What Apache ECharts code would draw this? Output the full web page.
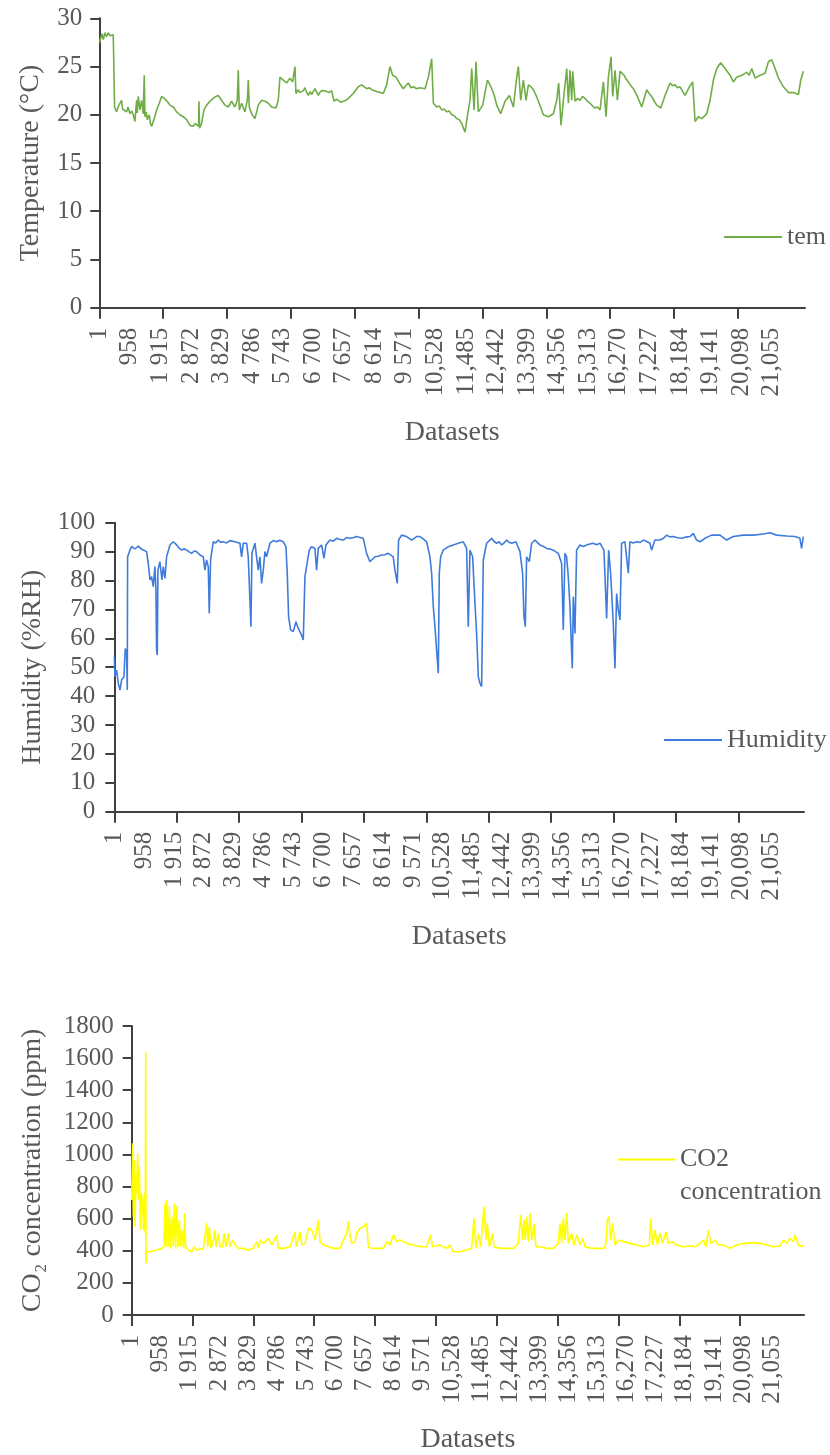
<!DOCTYPE html>
<html><head><meta charset="utf-8">
<script src="https://cdn.jsdelivr.net/npm/echarts@6/dist/echarts.min.js"></script>
<style>html,body{margin:0;padding:0;background:#fff}#c{width:830px;height:1455px}</style>
</head><body><div id="c"></div>
<script>
// ---- tick labels ----
const xLabelValues = [1,958,1915,2872,3829,4786,5743,6700,7657,8614,9571,10528,11485,12442,13399,14356,15313,16270,17227,18184,19141,20098,21055];
const xLabelTexts = ['1','958','1 915','2 872','3 829','4 786','5 743','6 700','7 657','8 614','9 571','10,528','11,485','12,442','13,399','14,356','15,313','16,270','17,227','18,184','19,141','20,098','21,055'];
const xTickValues = [1,2001,4001,6001,8001,10001,12001,14001,16001,18001,20001];

// ---- series values: [dataset index, value] ----
const tempData = [[1,27.4],[42,27.9],[84,28.4],[125,27.8],[177,28.5],[230,28.1],[282,28.5],[334,28.2],[386,28.4],[438,28.3],[470,28.4],[480,20.8],[543,20.3],[600,20.9],[626,20.7],[700,21.5],[730,20.6],[773,20.5],[856,20.3],[900,20.8],[960,20.1],[1020,20.4],[1065,20.0],[1117,19.3],[1169,21.5],[1190,20.2],[1221,21.9],[1274,20.5],[1326,21.5],[1378,20.1],[1409,24.1],[1430,19.8],[1470,20.3],[1503,19.5],[1566,20.0],[1600,19.1],[1639,18.8],[1712,19.5],[1796,20.5],[1879,21.2],[1952,21.9],[2004,22.0],[2040,21.7],[2088,21.5],[2150,21.3],[2213,21.0],[2318,20.8],[2422,20.3],[2470,20.5],[2526,20.0],[2631,19.8],[2735,19.5],[2790,19.7],[2840,18.9],[2944,18.8],[3000,19.1],[3048,18.9],[3110,18.8],[3122,21.4],[3143,18.6],[3205,19.1],[3278,20.5],[3362,21.0],[3466,21.4],[3570,21.7],[3650,21.9],[3727,22.0],[3831,21.5],[3936,21.0],[4040,20.8],[4145,21.4],[4249,20.8],[4322,21.5],[4353,24.6],[4384,20.5],[4458,21.2],[4562,20.3],[4640,21.6],[4667,23.6],[4698,20.8],[4771,20.1],[4875,19.6],[4980,21.0],[5084,21.5],[5188,21.4],[5293,21.2],[5397,20.8],[5533,20.7],[5606,21.5],[5658,23.9],[5763,23.6],[5867,23.3],[5972,23.8],[6055,23.4],[6128,25.0],[6159,22.2],[6190,22.4],[6232,22.6],[6280,22.3],[6337,22.2],[6390,22.5],[6441,22.8],[6500,22.3],[6546,22.0],[6600,22.4],[6650,22.1],[6700,22.2],[6754,22.7],[6800,22.5],[6859,22.0],[6900,22.3],[6963,22.5],[7040,22.5],[7120,22.4],[7200,22.3],[7276,22.5],[7350,21.4],[7420,21.6],[7485,21.5],[7560,21.3],[7642,21.4],[7720,21.5],[7799,21.7],[7955,22.2],[8112,22.9],[8216,23.1],[8300,22.9],[8373,22.7],[8450,22.8],[8529,22.6],[8686,22.4],[8800,22.3],[8895,22.2],[8999,23.1],[9103,25.0],[9187,24.1],[9291,23.9],[9396,23.3],[9521,22.7],[9600,23.0],[9678,23.3],[9760,22.8],[9834,22.9],[9940,22.7],[10044,22.8],[10201,22.7],[10305,23.9],[10410,25.8],[10462,21.2],[10566,20.8],[10650,20.9],[10723,20.5],[10800,20.6],[10880,20.3],[10960,20.4],[11036,20.0],[11120,19.9],[11193,19.6],[11270,19.5],[11349,19.1],[11454,18.2],[11537,20.1],[11610,21.5],[11663,24.8],[11736,20.5],[11798,25.5],[11871,20.3],[12007,21.0],[12153,23.6],[12220,23.2],[12289,22.7],[12370,22.0],[12446,21.0],[12571,20.1],[12707,21.4],[12842,22.0],[12968,20.8],[13072,23.9],[13124,25.0],[13197,21.5],[13281,23.6],[13364,21.5],[13437,23.1],[13520,22.9],[13594,22.6],[13680,22.0],[13750,21.4],[13830,20.7],[13907,20.0],[14064,19.8],[14220,20.1],[14325,21.5],[14387,23.3],[14460,18.9],[14534,21.5],[14638,24.8],[14690,21.2],[14742,24.6],[14795,21.5],[14826,24.5],[14899,21.4],[14980,21.7],[15056,21.5],[15130,21.9],[15212,21.7],[15290,21.4],[15369,21.2],[15450,20.9],[15525,20.7],[15600,20.8],[15682,20.5],[15786,23.4],[15870,19.8],[15943,23.9],[16026,26.0],[16078,21.9],[16152,24.6],[16225,21.5],[16308,24.5],[16434,24.1],[16500,23.7],[16569,23.4],[16650,23.0],[16726,22.7],[16851,21.9],[16987,20.8],[17144,22.6],[17220,22.2],[17300,21.9],[17380,21.4],[17457,21.0],[17582,20.7],[17718,22.0],[17874,23.3],[17950,23.0],[18031,23.1],[18110,22.8],[18188,22.9],[18344,22.0],[18480,22.9],[18584,23.4],[18657,19.3],[18762,19.8],[18866,19.6],[19023,20.1],[19127,21.5],[19232,23.6],[19336,24.8],[19461,25.4],[19597,24.8],[19754,24.1],[19858,23.4],[19962,23.9],[20119,24.1],[20276,24.4],[20350,24.1],[20432,24.8],[20537,23.8],[20693,24.1],[20850,24.3],[20954,25.5],[21059,25.7],[21163,24.8],[21268,23.8],[21424,22.9],[21581,22.3],[21738,22.3],[21894,22.1],[21967,23.6],[22050,24.5]];

const humData = [[1,53.6],[21,46.7],[75,49.0],[128,44.4],[182,42.1],[235,45.6],[310,46.7],[352,56.5],[395,54.8],[417,42.1],[427,88.2],[502,90.5],[560,91.8],[609,91.7],[660,90.9],[716,90.5],[770,91.9],[822,91.5],[880,90.8],[929,91.1],[1036,90.0],[1089,85.9],[1143,80.2],[1196,81.3],[1250,77.9],[1303,84.8],[1335,76.7],[1356,55.9],[1378,54.2],[1399,83.6],[1463,86.5],[1527,80.2],[1570,84.8],[1623,80.7],[1677,88.2],[1784,92.3],[1890,93.4],[1997,92.3],[2080,91.2],[2157,90.5],[2240,91.0],[2318,90.5],[2400,89.9],[2478,89.4],[2560,90.2],[2638,90.0],[2745,88.8],[2852,88.2],[2905,83.6],[2958,87.1],[3012,84.8],[3044,68.6],[3087,87.1],[3172,93.4],[3250,93.0],[3332,94.0],[3410,93.2],[3492,93.4],[3600,93.0],[3706,93.8],[3866,93.4],[4026,92.9],[4080,88.2],[4133,92.9],[4240,92.9],[4293,88.2],[4347,73.2],[4379,64.0],[4411,89.4],[4507,92.9],[4560,88.2],[4614,83.6],[4667,88.2],[4721,79.0],[4774,83.6],[4827,90.0],[4881,88.2],[4988,92.9],[5100,93.8],[5201,93.4],[5300,93.9],[5415,93.4],[5500,91.7],[5543,82.5],[5586,67.5],[5650,62.9],[5735,62.3],[5821,65.7],[5895,63.4],[6002,61.1],[6056,59.4],[6109,81.3],[6162,80.7],[6248,90.5],[6323,91.7],[6429,91.1],[6483,83.6],[6536,91.1],[6643,92.3],[6718,87.7],[6782,92.3],[6910,94.0],[7020,93.6],[7124,94.6],[7230,94.2],[7337,94.0],[7450,94.9],[7551,94.6],[7660,94.8],[7764,95.2],[7878,94.9],[7978,94.6],[8085,89.4],[8192,86.5],[8352,88.2],[8460,88.4],[8565,88.8],[8670,88.9],[8779,89.4],[8939,88.2],[8993,83.6],[9067,79.0],[9110,94.0],[9206,95.7],[9366,95.2],[9527,94.0],[9687,95.2],[9795,95.2],[9900,94.4],[10008,93.4],[10115,88.2],[10169,82.5],[10222,71.0],[10275,64.0],[10329,55.9],[10382,47.9],[10414,82.5],[10457,88.2],[10542,90.5],[10703,91.7],[10863,92.3],[11023,92.9],[11183,93.4],[11290,91.1],[11343,64.0],[11397,90.5],[11482,88.2],[11557,72.1],[11610,61.7],[11664,46.7],[11717,44.4],[11771,43.3],[11824,87.1],[11931,92.9],[12091,94.6],[12170,93.5],[12251,92.9],[12330,93.4],[12411,92.3],[12490,93.0],[12572,94.0],[12650,93.2],[12732,92.9],[12871,93.4],[12999,90.0],[13084,82.5],[13127,67.5],[13170,64.0],[13212,88.2],[13298,86.5],[13373,92.9],[13479,94.0],[13560,93.1],[13640,92.3],[13750,91.8],[13853,91.1],[13960,90.9],[14067,90.5],[14227,89.4],[14334,85.9],[14387,62.9],[14441,89.4],[14494,88.2],[14547,81.3],[14601,71.0],[14644,58.2],[14676,49.6],[14708,74.4],[14761,61.7],[14814,90.5],[14921,92.3],[15030,91.8],[15135,92.3],[15240,92.6],[15348,92.9],[15450,92.4],[15562,92.9],[15690,90.5],[15776,66.9],[15840,90.5],[15904,82.5],[15989,65.2],[16043,49.6],[16096,75.5],[16149,69.8],[16203,66.3],[16256,92.9],[16363,93.4],[16470,82.5],[16523,93.4],[16630,93.0],[16737,93.4],[16850,93.2],[16950,94.0],[17060,93.5],[17164,92.9],[17217,90.5],[17324,94.0],[17484,94.0],[17600,94.6],[17698,95.7],[17800,95.1],[17912,95.2],[18050,94.8],[18179,94.6],[18300,95.0],[18446,95.2],[18552,96.3],[18659,94.0],[18766,93.4],[18926,94.6],[19140,95.7],[19407,95.7],[19620,94.0],[19834,95.2],[20154,95.7],[20474,95.7],[20795,96.1],[21009,96.5],[21222,95.7],[21543,95.4],[21810,95.2],[21970,94.6],[22023,91.1],[22077,95.2]];

const co2Data = [[1,716],[33,1069],[55,612],[88,965],[110,550],[142,882],[164,758],[197,1007],[230,716],[252,924],[285,529],[318,758],[362,675],[395,529],[416,758],[449,509],[460,1640],[471,322],[493,394],[603,394],[822,405],[986,415],[1063,425],[1096,695],[1129,425],[1151,716],[1206,425],[1238,675],[1282,415],[1326,612],[1370,425],[1403,695],[1447,415],[1480,675],[1534,425],[1567,592],[1611,425],[1655,529],[1710,415],[1743,633],[1776,425],[1863,405],[1973,394],[2050,425],[2137,405],[2356,415],[2466,571],[2499,425],[2554,550],[2608,415],[2685,467],[2740,529],[2773,425],[2850,509],[2904,425],[2992,425],[3036,509],[3102,425],[3178,509],[3233,425],[3321,467],[3398,436],[3508,415],[3672,415],[3836,405],[4001,415],[4111,457],[4165,415],[4220,467],[4330,446],[4494,477],[4604,436],[4768,498],[4823,415],[4987,415],[5207,425],[5371,519],[5404,425],[5535,519],[5590,436],[5700,446],[5810,540],[5919,529],[6029,467],[6138,592],[6193,457],[6302,436],[6466,425],[6631,415],[6850,415],[6960,467],[7069,509],[7124,581],[7179,488],[7234,446],[7343,457],[7398,509],[7508,540],[7618,550],[7727,571],[7782,425],[7892,415],[8056,415],[8276,415],[8385,457],[8495,436],[8604,498],[8714,457],[8823,467],[9042,446],[9261,436],[9480,425],[9696,425],[9827,498],[9893,425],[10134,436],[10353,415],[10463,436],[10573,394],[10792,394],[11011,405],[11175,415],[11252,602],[11318,415],[11395,509],[11471,425],[11581,675],[11647,467],[11691,571],[11756,425],[11866,509],[11910,425],[12107,415],[12326,415],[12545,415],[12710,446],[12786,623],[12852,467],[12896,592],[12940,467],[12984,612],[13039,457],[13093,633],[13148,467],[13225,571],[13291,425],[13422,425],[13641,415],[13861,415],[14025,446],[14080,571],[14135,446],[14189,602],[14244,467],[14299,633],[14354,446],[14463,509],[14540,436],[14628,498],[14737,436],[14825,477],[14902,425],[15121,415],[15340,415],[15527,415],[15592,446],[15636,592],[15691,612],[15746,467],[15811,571],[15888,436],[15998,467],[16162,457],[16381,446],[16601,436],[16820,425],[17017,436],[17061,602],[17127,436],[17203,529],[17280,436],[17368,509],[17455,446],[17565,519],[17642,446],[17751,457],[17916,436],[18135,425],[18354,430],[18519,425],[18683,446],[18793,467],[18880,425],[18957,529],[19034,446],[19176,467],[19286,436],[19450,436],[19669,415],[19889,436],[20108,446],[20437,451],[20656,446],[20875,436],[21094,425],[21313,430],[21423,467],[21533,446],[21642,477],[21752,457],[21807,498],[21917,436],[22027,425],[22081,436]];

const FONT = '"Liberation Serif", "Times New Roman", serif';
const TXT = '#595959';
const AX = '#404040';

function xAxisFor(gi, max) {
  return {
    type: 'value', gridIndex: gi, min: 1, max: max,
    axisLine: { show: true, lineStyle: { color: AX, width: 2 } },
    axisTick: { show: true, customValues: xTickValues, length: 11, lineStyle: { color: AX, width: 2 } },
    axisLabel: {
      customValues: xLabelValues, rotate: 90, margin: 20, fontSize: 25, fontFamily: FONT, color: TXT,
      formatter: function (v) { const i = xLabelValues.indexOf(v); return i >= 0 ? xLabelTexts[i] : ''; }
    },
    splitLine: { show: false },
    name: 'Datasets', nameLocation: 'middle', nameGap: 111,
    nameTextStyle: { fontSize: 28, fontFamily: FONT, color: TXT }
  };
}
function yAxisFor(gi, max, interval, name, gap, margin) {
  return {
    type: 'value', gridIndex: gi, min: 0, max: max, interval: interval,
    axisLine: { show: true, lineStyle: { color: AX, width: 2 } },
    axisTick: { show: true, length: 9, lineStyle: { color: AX, width: 2 } },
    axisLabel: { fontSize: 25, fontFamily: FONT, color: TXT, margin: margin, formatter: function (v) { return String(v); } },
    splitLine: { show: false },
    name: name, nameLocation: 'middle', nameGap: gap,
    nameTextStyle: { fontSize: 28, fontFamily: FONT, color: TXT }
  };
}

const chart = echarts.init(document.getElementById('c'), null, { renderer: 'canvas' });
chart.setOption({
  animation: false,
  backgroundColor: '#fff',
  grid: [
    { left: 99.3, top: 18.3, width: 705.7, height: 289.4 },
    { left: 114.3, top: 522.7, width: 689.7, height: 289 },
    { left: 131.7, top: 1026, width: 672.3, height: 289 }
  ],
  xAxis: [xAxisFor(0, 22100), xAxisFor(1, 22100), xAxisFor(2, 22100)],
  yAxis: [
    yAxisFor(0, 30, 5, 'Temperature (°C)', 55, 17),
    yAxisFor(1, 100, 10, 'Humidity (%RH)', 68, 19),
    yAxisFor(2, 1800, 200, 'CO₂ concentration (ppm)', 85, 18)
  ],
  legend: [
    { data: [{ name: 'tem', icon: 'rect' }], left: 724, top: 222, padding: 0, itemWidth: 58, itemHeight: 2,
      textStyle: { fontSize: 26, fontFamily: FONT, color: TXT, lineHeight: 30 } },
    { data: [{ name: 'Humidity', icon: 'rect' }], left: 664, top: 725, padding: 0, itemWidth: 58, itemHeight: 2,
      textStyle: { fontSize: 26, fontFamily: FONT, color: TXT, lineHeight: 30 } },
    { data: [{ name: 'CO2\nconcentration', icon: 'rect' }], left: 618, top: 1110, padding: 0, itemWidth: 57, itemHeight: 2,
      formatter: function (n) { return '\n' + n; },
      textStyle: { fontSize: 26, fontFamily: FONT, color: TXT, lineHeight: 33 } }
  ],
  series: [
    { name: 'tem', type: 'line', xAxisIndex: 0, yAxisIndex: 0, data: tempData, symbol: 'none', showSymbol: false,
      lineStyle: { color: '#70AD47', width: 1.6 }, itemStyle: { color: '#70AD47' } },
    { name: 'Humidity', type: 'line', xAxisIndex: 1, yAxisIndex: 1, data: humData, symbol: 'none', showSymbol: false,
      lineStyle: { color: '#3F7BDB', width: 1.6 }, itemStyle: { color: '#3F7BDB' } },
    { name: 'CO2\nconcentration', type: 'line', xAxisIndex: 2, yAxisIndex: 2, data: co2Data, symbol: 'none', showSymbol: false,
      lineStyle: { color: '#FFFF00', width: 1.6 }, itemStyle: { color: '#FFFF00' } }
  ]
});
</script></body></html>
